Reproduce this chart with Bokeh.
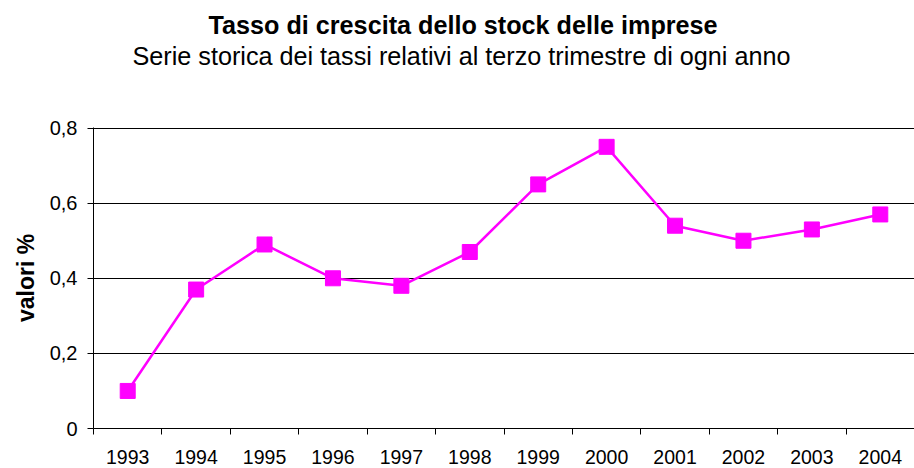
from bokeh.plotting import figure
from bokeh.models import Range1d, FixedTicker, Title, ColumnDataSource
from bokeh.embed import file_html
from bokeh.resources import INLINE

years = ["1993", "1994", "1995", "1996", "1997", "1998", "1999", "2000", "2001", "2002", "2003", "2004"]
values = [0.10, 0.37, 0.49, 0.40, 0.38, 0.47, 0.65, 0.75, 0.54, 0.50, 0.53, 0.57]
y_ticks = [0, 0.2, 0.4, 0.6, 0.8]
y_tick_labels = ["0", "0,2", "0,4", "0,6", "0,8"]

FONT = "Liberation Sans"
COLOR = "#FF00FF"

xs = [i + 0.5 for i in range(len(years))]
src = ColumnDataSource(dict(x=xs, y=values))

p = figure(width=914, height=468, output_backend="svg", toolbar_location=None,
           x_range=Range1d(0, len(years)), y_range=Range1d(0, 0.8015),
           min_border_left=93, min_border_right=0, min_border_bottom=40, min_border_top=5)
p.outline_line_color = None
p.background_fill_color = "white"
p.border_fill_color = "white"

# titles (spacer nearest the frame, then subtitle, title outermost)
spacer = Title(text=" ", text_font=FONT, text_font_size="10px", standoff=52)
p.add_layout(spacer, "above")
sub = Title(text="Serie storica dei tassi relativi al terzo trimestre di ogni anno",
            text_font=FONT, text_font_size="25.2px", text_font_style="normal",
            text_color="black", align="left", offset=39, standoff=-14)
p.add_layout(sub, "above")
p.title = Title(text="Tasso di crescita dello stock delle imprese",
                text_font=FONT, text_font_size="25.2px", text_font_style="bold",
                text_color="black", align="left", offset=115, standoff=16)

# line and markers
p.line("x", "y", source=src, line_color=COLOR, line_width=2.5)
p.scatter("x", "y", source=src, marker="square", size=15, fill_color=COLOR, line_color=COLOR)

# x axis: tick marks between categories (minor ticks), labels at category centres
xa = p.xaxis[0]
xa.ticker = FixedTicker(ticks=xs, minor_ticks=list(range(len(years) + 1)))
xa.major_label_overrides = {x: y for x, y in zip(xs, years)}
xa.major_tick_line_color = None
xa.major_tick_out = 0
xa.major_tick_in = 0
xa.minor_tick_out = 6
xa.minor_tick_in = 0
xa.minor_tick_line_color = "black"
xa.axis_line_color = "black"
xa.major_label_text_font = FONT
xa.major_label_text_font_size = "19.5px"
xa.major_label_text_color = "black"
xa.major_label_standoff = 15

# y axis
ya = p.yaxis[0]
ya.ticker = FixedTicker(ticks=y_ticks, minor_ticks=[])
ya.major_label_overrides = {t: l for t, l in zip(y_ticks, y_tick_labels)}
ya.major_tick_out = 6
ya.major_tick_in = 0
ya.major_tick_line_color = "black"
ya.minor_tick_line_color = None
ya.axis_line_color = "black"
ya.major_label_text_font = FONT
ya.major_label_text_font_size = "20px"
ya.major_label_text_color = "black"
ya.major_label_standoff = 10
ya.axis_label = "valori %"
ya.axis_label_text_font = FONT
ya.axis_label_text_font_size = "23px"
ya.axis_label_text_font_style = "bold"
ya.axis_label_text_color = "black"
ya.axis_label_standoff = 8

p.xgrid.grid_line_color = None
p.ygrid.ticker = FixedTicker(ticks=y_ticks[1:])
p.ygrid.grid_line_color = "black"
p.ygrid.grid_line_width = 1

open("out.html", "w").write(file_html(p, INLINE))
